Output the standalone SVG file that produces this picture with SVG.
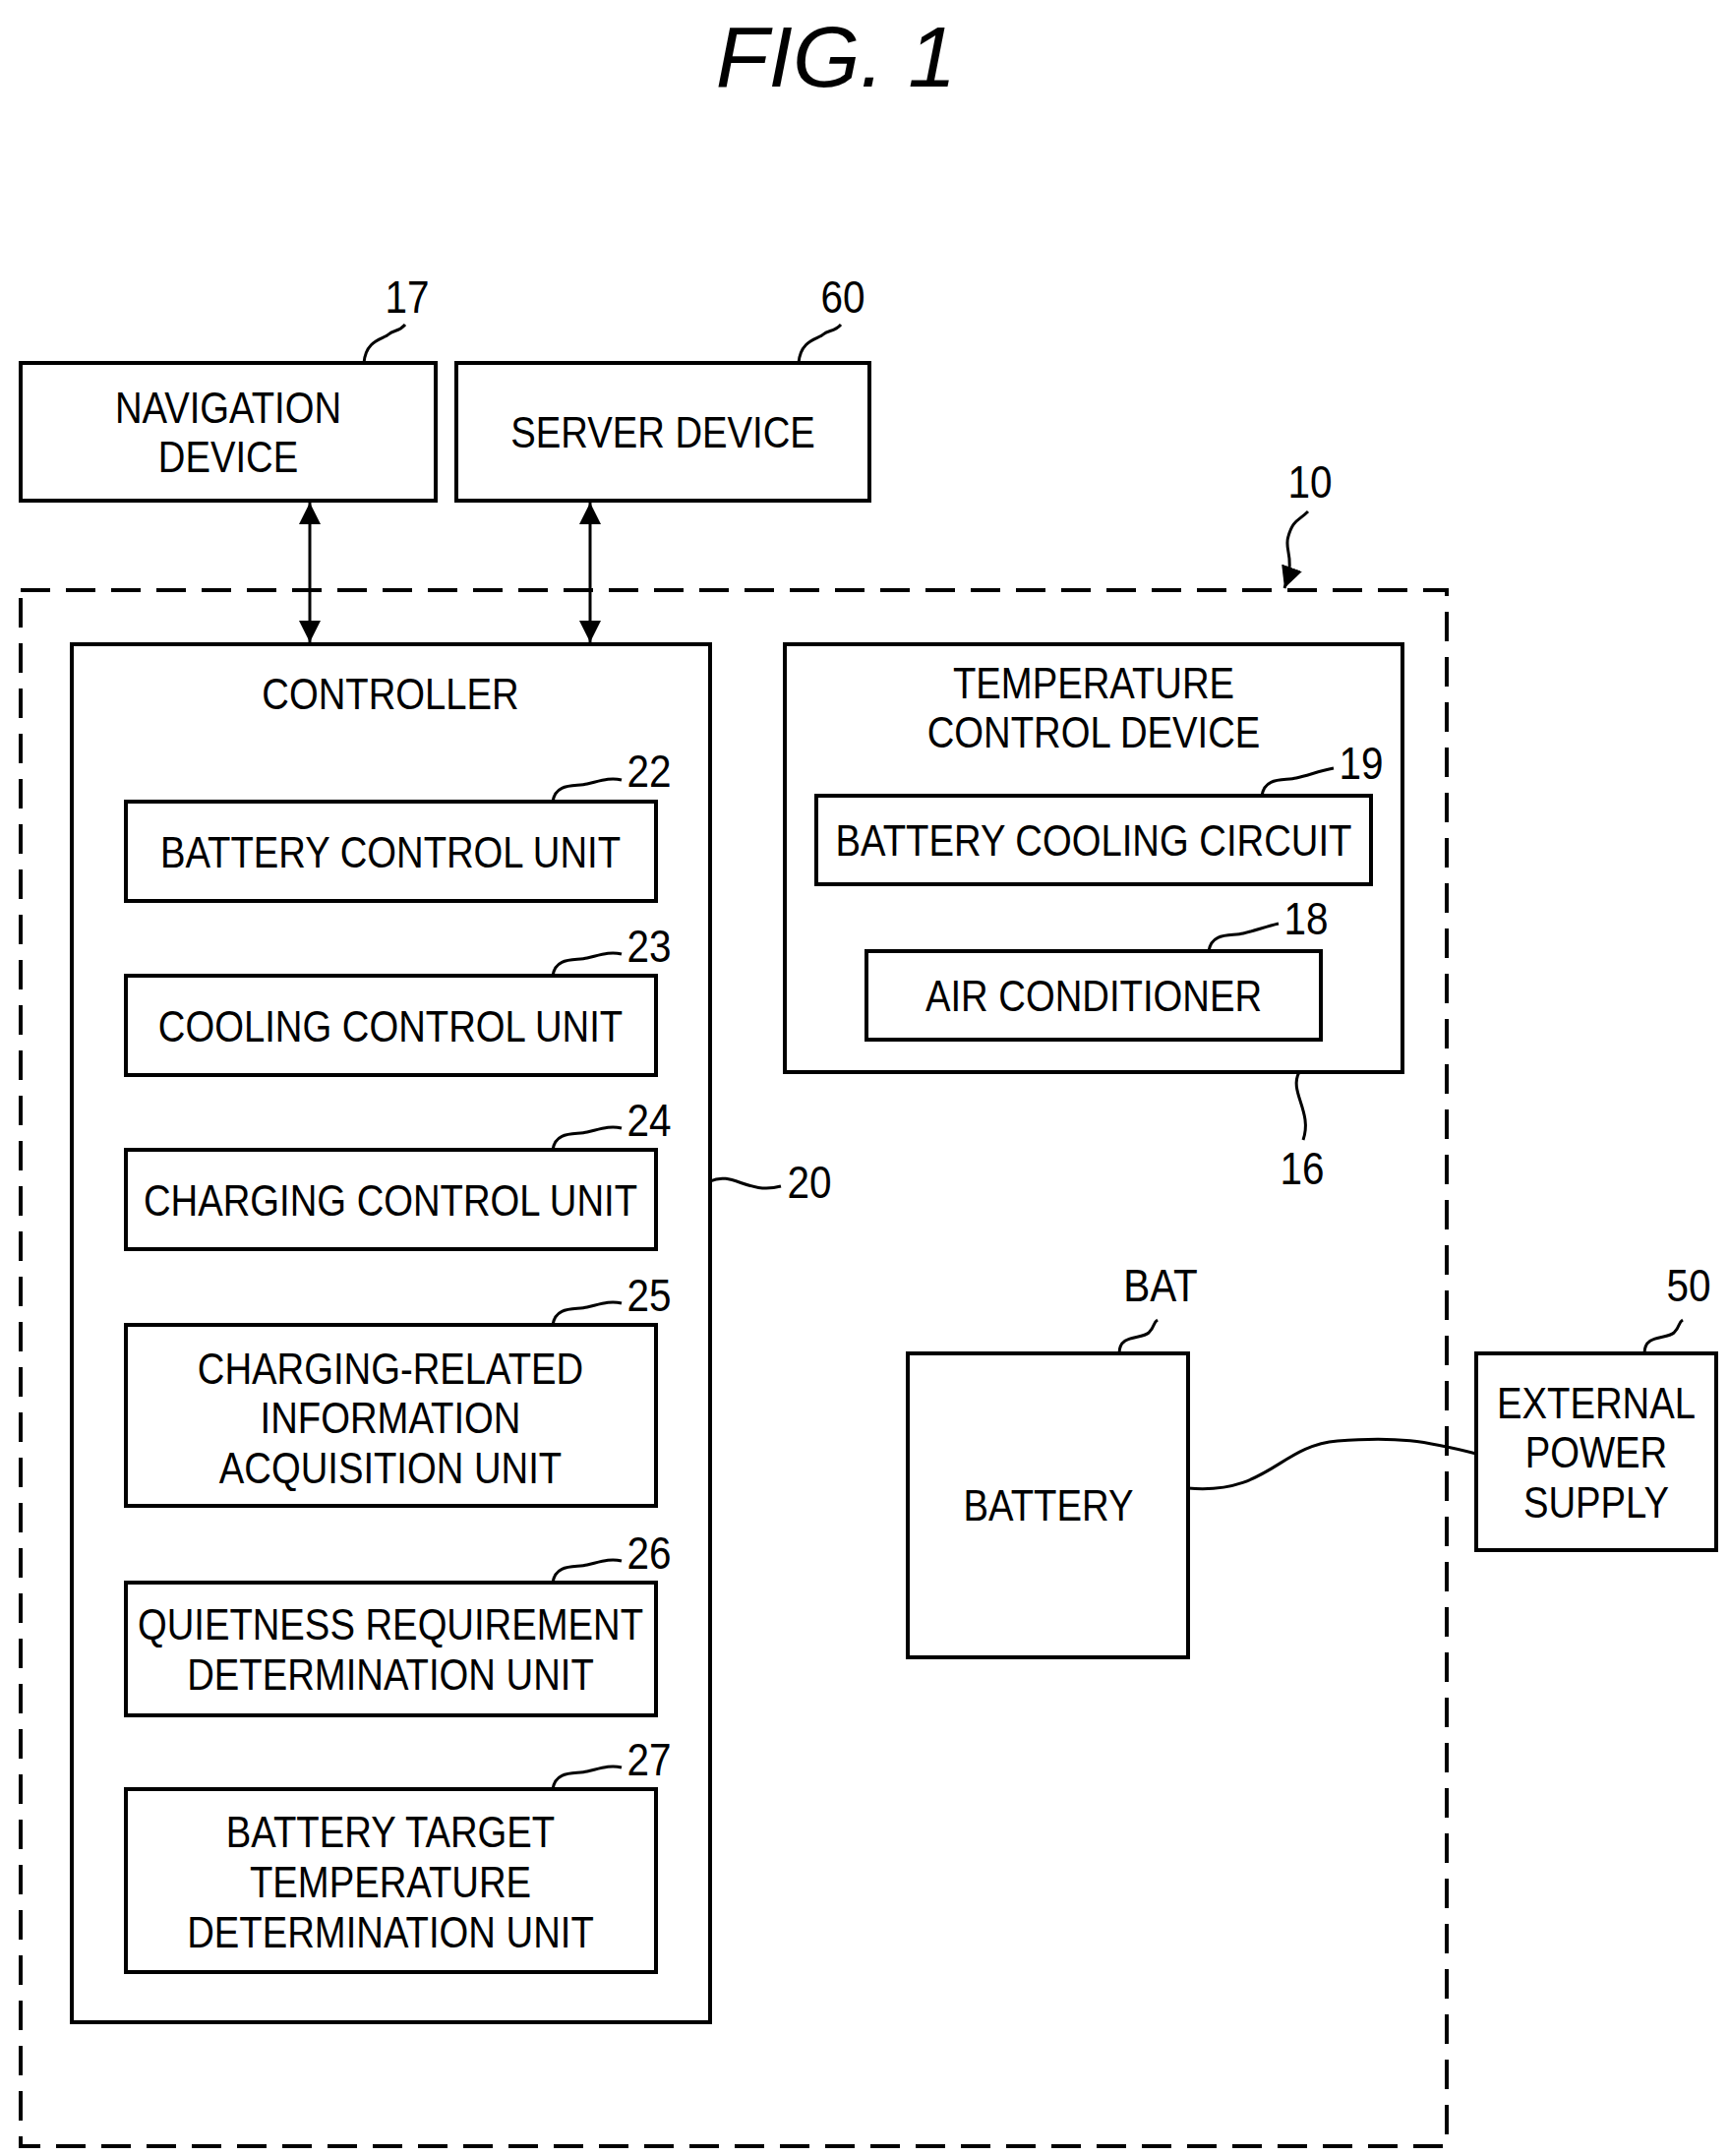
<svg xmlns="http://www.w3.org/2000/svg" width="1758" height="2192" viewBox="0 0 1758 2192">
<style>
.b{fill:#fff;stroke:#000;stroke-width:4}
.t{font-family:"Liberation Sans",Arial,sans-serif;font-size:45px;text-anchor:middle;fill:#000;transform-box:fill-box;transform-origin:center;transform:scaleX(0.85)}
.n{font-family:"Liberation Sans",Arial,sans-serif;font-size:46px;text-anchor:middle;fill:#000;transform-box:fill-box;transform-origin:center;transform:scaleX(0.88)}
.l{fill:none;stroke:#000;stroke-width:3}
</style>
<defs>
<marker id="h" viewBox="0 0 10 10" refX="10" refY="5" markerWidth="22" markerHeight="22" orient="auto-start-reverse" markerUnits="userSpaceOnUse"><path d="M0,0L10,5L0,10z" fill="#000"/></marker></defs>
<text x="850" y="88" font-family="Liberation Sans,Arial,sans-serif" font-size="88" font-style="italic" text-anchor="middle">FIG. 1</text>
<rect x="21" y="600" width="1450" height="1582" fill="none" stroke="#000" stroke-width="4" stroke-dasharray="30,16"/>
<g id="nav"><rect class="b" x="21" y="369" width="422" height="140"/><text class="t" x="232" y="430">NAVIGATION</text><text class="t" x="232" y="480">DEVICE</text></g>
<g id="server"><rect class="b" x="464" y="369" width="420" height="140"/><text class="t" x="674" y="455">SERVER DEVICE</text></g>
<g id="controller"><rect class="b" x="73" y="655" width="649" height="1401"/><text class="t" x="397" y="721">CONTROLLER</text></g>
<g id="u22"><rect class="b" x="128" y="815" width="539" height="101"/><text class="t" x="397" y="882">BATTERY CONTROL UNIT</text></g>
<g id="u23"><rect class="b" x="128" y="992" width="539" height="101"/><text class="t" x="397" y="1059">COOLING CONTROL UNIT</text></g>
<g id="u24"><rect class="b" x="128" y="1169" width="539" height="101"/><text class="t" x="397" y="1236">CHARGING CONTROL UNIT</text></g>
<g id="u25"><rect class="b" x="128" y="1347" width="539" height="184"/><text class="t" x="397" y="1407">CHARGING-RELATED</text><text class="t" x="397" y="1457">INFORMATION</text><text class="t" x="397" y="1508">ACQUISITION UNIT</text></g>
<g id="u26"><rect class="b" x="128" y="1609" width="539" height="135"/><text class="t" x="397" y="1667">QUIETNESS REQUIREMENT</text><text class="t" x="397" y="1718">DETERMINATION UNIT</text></g>
<g id="u27"><rect class="b" x="128" y="1819" width="539" height="186"/><text class="t" x="397" y="1878">BATTERY TARGET</text><text class="t" x="397" y="1929">TEMPERATURE</text><text class="t" x="397" y="1980">DETERMINATION UNIT</text></g>
<g id="temp"><rect class="b" x="798" y="655" width="628" height="435"/><text class="t" x="1112" y="710">TEMPERATURE</text><text class="t" x="1112" y="760">CONTROL DEVICE</text></g>
<g id="cool"><rect class="b" x="830" y="809" width="564" height="90"/><text class="t" x="1112" y="870">BATTERY COOLING CIRCUIT</text></g>
<g id="ac"><rect class="b" x="881" y="967" width="462" height="90"/><text class="t" x="1112" y="1028">AIR CONDITIONER</text></g>
<g id="bat"><rect class="b" x="923" y="1376" width="285" height="309"/><text class="t" x="1066" y="1546">BATTERY</text></g>
<g id="ext"><rect class="b" x="1501" y="1376" width="244" height="200"/><text class="t" x="1623" y="1442">EXTERNAL</text><text class="t" x="1623" y="1492">POWER</text><text class="t" x="1623" y="1543">SUPPLY</text></g>
<g id="connectors">
<line class="l" x1="315" y1="511" x2="315" y2="653" marker-start="url(#h)" marker-end="url(#h)"/>
<line class="l" x1="600" y1="511" x2="600" y2="653" marker-start="url(#h)" marker-end="url(#h)"/>
<path class="l" d="M1208,1513 C1290,1520 1300,1470 1360,1465 C1420,1460 1450,1465 1501,1478"/>
<path class="l" d="M370,369 C372,345 390,345 395,340 C400,335 405,338 412,330"/>
<path class="l" d="M812,369 C814,345 832,345 837,340 C842,335 848,338 855,330"/>
<path class="l" d="M1330,520 C1320,530 1315,528 1310,545 C1305,560 1318,565 1306,598" marker-end="url(#h)"/>
<path class="l" d="M562,815 C565,795 585,800 597,797 C610,794 620,790 632,793"/>
<path class="l" d="M562,992 C565,972 585,977 597,974 C610,971 620,967 632,970"/>
<path class="l" d="M562,1169 C565,1149 585,1154 597,1151 C610,1148 620,1144 632,1147"/>
<path class="l" d="M562,1347 C565,1327 585,1332 597,1329 C610,1326 620,1322 632,1325"/>
<path class="l" d="M562,1609 C565,1589 585,1594 597,1591 C610,1588 620,1584 632,1587"/>
<path class="l" d="M562,1819 C565,1799 585,1804 597,1801 C610,1798 620,1794 632,1797"/>
<path class="l" d="M722,1201 C745,1190 760,1215 794,1206"/>
<path class="l" d="M1283,809 C1286,789 1306,794 1318,791 C1331,788 1341,784 1356,781"/>
<path class="l" d="M1229,967 C1232,947 1252,952 1264,949 C1277,946 1287,942 1300,939"/>
<path class="l" d="M1321,1090 C1310,1110 1335,1130 1325,1159"/>
<path class="l" d="M1138,1376 C1138,1356 1160,1362 1168,1355 C1175,1348 1172,1345 1177,1342"/>
<path class="l" d="M1672,1376 C1672,1356 1694,1362 1702,1355 C1709,1348 1706,1345 1711,1342"/>
</g>
<text class="n" x="414" y="318">17</text>
<text class="n" x="857" y="318">60</text>
<text class="n" x="1332" y="506">10</text>
<text class="n" x="660" y="800">22</text>
<text class="n" x="660" y="978">23</text>
<text class="n" x="660" y="1155">24</text>
<text class="n" x="660" y="1333">25</text>
<text class="n" x="660" y="1595">26</text>
<text class="n" x="660" y="1805">27</text>
<text class="n" x="823" y="1218">20</text>
<text class="n" x="1384" y="792">19</text>
<text class="n" x="1328" y="950">18</text>
<text class="n" x="1324" y="1204">16</text>
<text class="n" x="1180" y="1323">BAT</text>
<text class="n" x="1717" y="1323">50</text>
</svg>
